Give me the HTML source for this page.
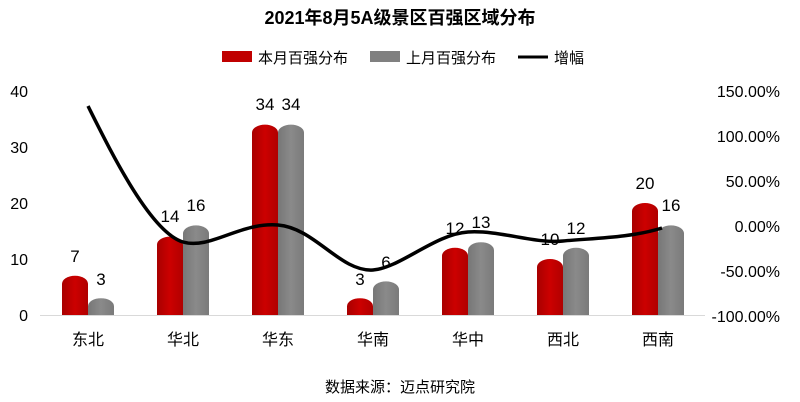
<!DOCTYPE html><html><head><meta charset="utf-8"><style>body{margin:0;background:#fff}svg{display:block;font-family:"Liberation Sans","Noto Sans CJK SC",sans-serif}</style></head><body>
<svg width="800" height="402" viewBox="0 0 800 402">
<defs><linearGradient id="r" x1="0" x2="1"><stop offset="0" stop-color="#a80000"/><stop offset="0.5" stop-color="#cc0000"/><stop offset="1" stop-color="#b00000"/></linearGradient>
<linearGradient id="g" x1="0" x2="1"><stop offset="0" stop-color="#777"/><stop offset="0.5" stop-color="#8a8a8a"/><stop offset="1" stop-color="#7a7a7a"/></linearGradient></defs>
<text x="400" y="24" text-anchor="middle" font-size="18" font-weight="bold" fill="#000">2021年8月5A级景区百强区域分布</text>
<rect x="222" y="51" width="30" height="11" fill="#c00000"/><text x="258" y="63" font-size="15">本月百强分布</text>
<rect x="370" y="51" width="30" height="11" fill="#808080"/><text x="406" y="63" font-size="15">上月百强分布</text>
<line x1="518" y1="57" x2="548" y2="57" stroke="#000" stroke-width="3"/><text x="554" y="63" font-size="15">增幅</text>
<line x1="40" y1="315.5" x2="705" y2="315.5" stroke="#d9d9d9"/>
<g font-size="16" fill="#000" text-anchor="end">
<text x="28" y="97">40</text><text x="28" y="153">30</text><text x="28" y="209">20</text><text x="28" y="265">10</text><text x="28" y="321">0</text></g>
<g font-size="16" fill="#000" text-anchor="end">
<text x="780" y="97">150.00%</text><text x="780" y="142">100.00%</text><text x="780" y="187">50.00%</text><text x="780" y="232">0.00%</text><text x="780" y="277">-50.00%</text><text x="780" y="322">-100.00%</text></g>
<g font-size="16" text-anchor="middle">
<text x="88" y="345">东北</text><text x="183" y="345">华北</text><text x="278" y="345">华东</text><text x="373" y="345">华南</text><text x="468" y="345">华中</text><text x="563" y="345">西北</text><text x="658" y="345">西南</text></g>
<g fill="url(#r)">
<path d="M62,315 L62,283.8 A13,8 0 0 1 88,283.8 L88,315 Z"/>
<path d="M157,315 L157,244.6 A13,8 0 0 1 183,244.6 L183,315 Z"/>
<path d="M252,315 L252,132.6 A13,8 0 0 1 278,132.6 L278,315 Z"/>
<path d="M347,315 L347,306.2 A13,8 0 0 1 373,306.2 L373,315 Z"/>
<path d="M442,315 L442,255.8 A13,8 0 0 1 468,255.8 L468,315 Z"/>
<path d="M537,315 L537,267 A13,8 0 0 1 563,267 L563,315 Z"/>
<path d="M632,315 L632,211 A13,8 0 0 1 658,211 L658,315 Z"/>
</g>
<g fill="url(#g)">
<path d="M88,315 L88,306.2 A13,8 0 0 1 114,306.2 L114,315 Z"/>
<path d="M183,315 L183,233.4 A13,8 0 0 1 209,233.4 L209,315 Z"/>
<path d="M278,315 L278,132.6 A13,8 0 0 1 304,132.6 L304,315 Z"/>
<path d="M373,315 L373,289.4 A13,8 0 0 1 399,289.4 L399,315 Z"/>
<path d="M468,315 L468,250.2 A13,8 0 0 1 494,250.2 L494,315 Z"/>
<path d="M563,315 L563,255.8 A13,8 0 0 1 589,255.8 L589,315 Z"/>
<path d="M658,315 L658,233.4 A13,8 0 0 1 684,233.4 L684,315 Z"/>
</g>
<g font-size="17" text-anchor="middle" fill="#000">
<text x="75" y="262">7</text><text x="101" y="285">3</text>
<text x="170" y="222">14</text><text x="196" y="211">16</text>
<text x="265" y="110">34</text><text x="291" y="110">34</text>
<text x="360" y="285">3</text><text x="386" y="268">6</text>
<text x="455" y="234">12</text><text x="481" y="228">13</text>
<text x="550" y="245">10</text><text x="576" y="234">12</text>
<text x="645" y="189">20</text><text x="671" y="211">16</text>
</g>
<path d="M88,106 C110,150 150,232 183,242 C210,250 240,222 278,225 C315,228 340,272 373,270 C400,268 435,234 468,232 C500,230 535,244 563,241 C595,238 630,238 662,228" fill="none" stroke="#000" stroke-width="3.5"/>
<text x="400" y="392" text-anchor="middle" font-size="15">数据来源：迈点研究院</text>
</svg></body></html>
